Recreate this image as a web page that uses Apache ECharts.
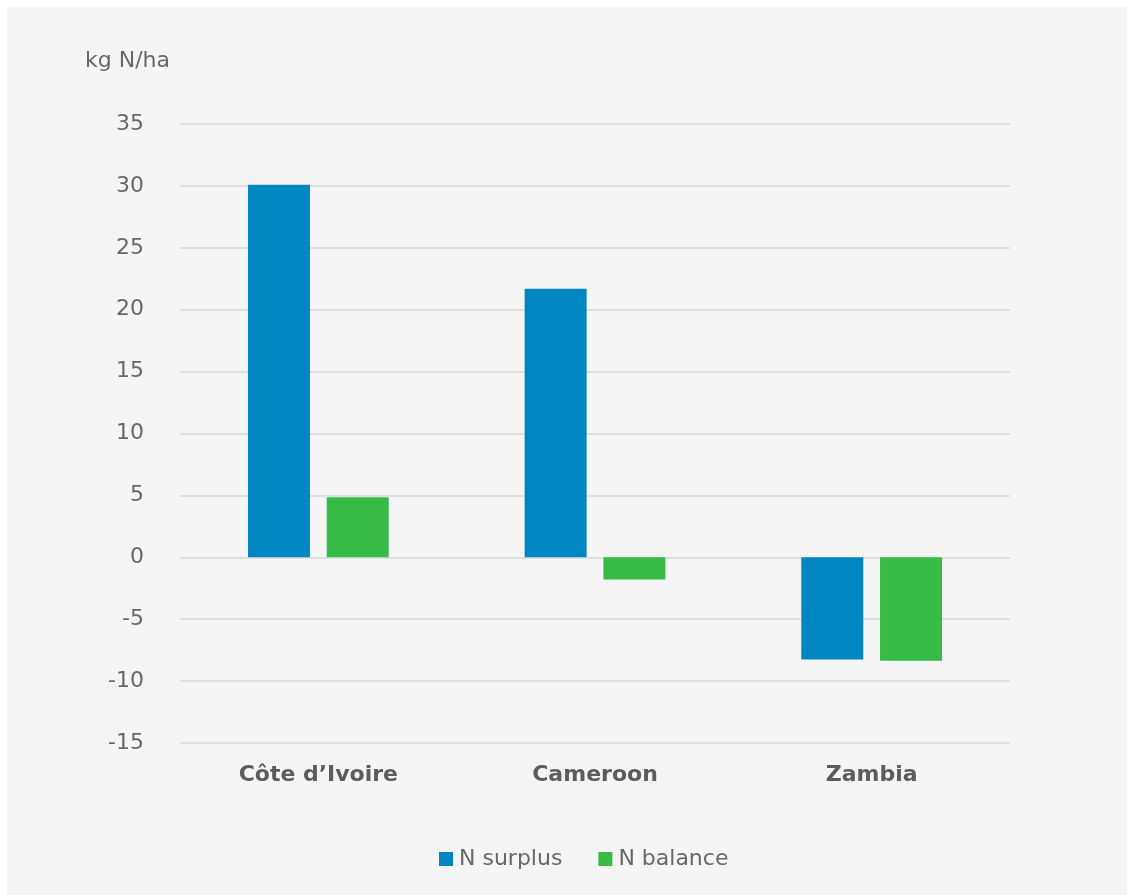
<!DOCTYPE html>
<html>
<head>
<meta charset="utf-8">
<script src="https://cdn.jsdelivr.net/npm/echarts@6/dist/echarts.min.js"></script>
<style>
  html, body { margin: 0; padding: 0; background: #ffffff; }
  #chart { width: 1127px; height: 895px; }
</style>
</head>
<body>
<div id="chart"></div>
<script>
const categories = ["Côte d\u2019Ivoire", "Cameroon", "Zambia"];
const nSurplus = [30.1, 21.7, -8.25];
const nBalance = [4.85, -1.8, -8.35];
const seriesNames = ["N surplus", "N balance"];
const yAxisTitle = "kg N/ha";

const chart = echarts.init(document.getElementById('chart'), null, { renderer: 'canvas' });
const labelFont = '"DejaVu Sans", "Open Sans", sans-serif';
const textColor = '#5c5c5c';
const lightText = '#686868';

chart.setOption({
  backgroundColor: '#ffffff',
  animation: false,
  graphic: [
    { type: 'rect', left: 7, top: 7, shape: { width: 1120, height: 888 }, style: { fill: '#f5f5f5' }, z: -10 },
    { type: 'text', left: 85, top: 50, style: { text: yAxisTitle, fill: lightText, font: 'normal 22px ' + labelFont } }
  ],
  color: ['#0086c2', '#36bb46'],
  grid: { left: 180, right: 117, top: 124, bottom: 152 },
  legend: {
    top: 843,
    left: 434,
    itemWidth: 14,
    itemHeight: 14,
    itemGap: 36,
    icon: 'rect',
    textStyle: { color: lightText, fontSize: 22, fontFamily: labelFont, padding: [0, 0, 0, 1] },
    data: seriesNames
  },
  xAxis: {
    type: 'category',
    data: categories,
    axisLine: { show: false },
    axisTick: { show: false },
    axisLabel: { color: textColor, fontSize: 22, fontWeight: 'bold', fontFamily: labelFont, margin: 21 }
  },
  yAxis: {
    type: 'value',
    min: -15,
    max: 35,
    interval: 5,
    axisLine: { show: false },
    axisTick: { show: false },
    splitLine: { lineStyle: { color: '#d9d9d9', width: 1.5 } },
    axisLabel: { color: lightText, fontSize: 22, fontFamily: labelFont, margin: 36 }
  },
  series: [
    { name: seriesNames[0], type: 'bar', data: nSurplus, barWidth: 62, barGap: '27%' },
    { name: seriesNames[1], type: 'bar', data: nBalance, barWidth: 62, barGap: '27%' }
  ]
});
</script>
</body>
</html>
